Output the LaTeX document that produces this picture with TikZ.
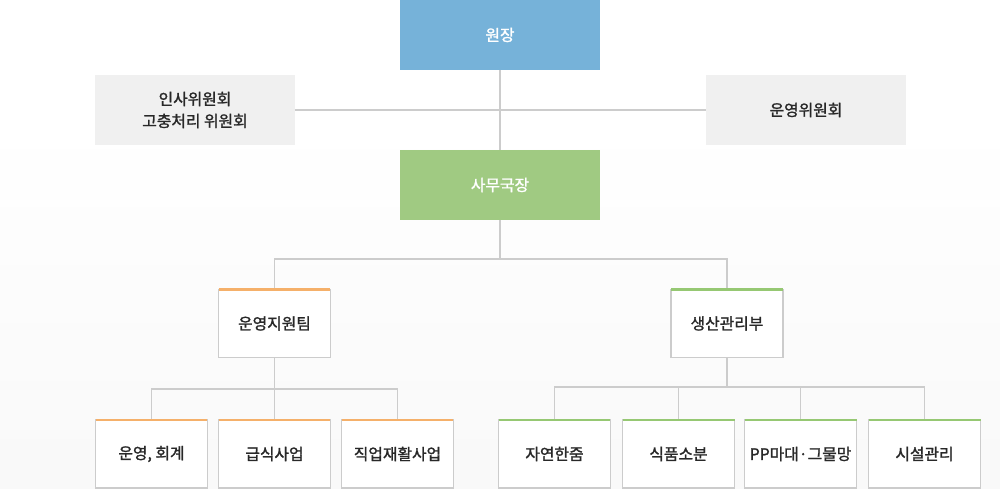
\documentclass[tikz,border=0pt]{standalone}
\usepackage{fontspec}
\setmainfont{Noto Sans CJK KR}[FakeBold=1.5]
\usepackage{xcolor}
\definecolor{headblue}{RGB}{118,178,217}
\definecolor{officegreen}{RGB}{160,202,130}
\definecolor{barorange}{RGB}{245,176,106}
\definecolor{bargreen}{RGB}{150,200,115}
\definecolor{boardgray}{RGB}{240,240,240}
\definecolor{linegray}{RGB}{204,204,204}
\definecolor{textdark}{RGB}{40,40,40}
\usepackage{tikz}
\usetikzlibrary{positioning, calc}

\begin{document}
\begin{tikzpicture}[x=0.02cm, y=-0.02cm, font=\fontsize{9}{12.5}\selectfont,
  topbox/.style={minimum width=4cm, minimum height=1.4cm, inner sep=0pt, outer sep=0pt, text=white},
  boardbox/.style={fill=boardgray, minimum width=4cm, minimum height=1.4cm, inner sep=0pt, outer sep=0pt, text=textdark, align=center},
  unitbox/.style={draw=linegray, line width=0.6pt, fill=white, minimum width=2.24cm, minimum height=1.36cm, inner sep=0pt, outer sep=0pt, text=textdark},
  link/.style={draw=linegray, line width=0.6pt}]

  % background
  \useasboundingbox (0,0) rectangle (1000,489);
  \shade[top color=white, bottom color=gray!5] (0,120) rectangle (1000,489);

  % Top: director, committees, office
  \node[topbox, fill=headblue] (director) at (500,35) {원장};
  \node[boardbox] (personnel) at (195,110) {인사위원회\\고충처리 위원회};
  \node[boardbox] (operating) at (806,110) {운영위원회};
  \node[topbox, fill=officegreen] (office) at (500,185) {사무국장};

  \draw[link] (personnel.east) -- (operating.west);
  \draw[link] (director.south) -- (office.north);

  % Middle: team and department
  \node[unitbox] (support) at (274.5,323.5) {운영지원팀};
  \node[unitbox] (production) at (727,323.5) {생산관리부};
  \coordinate (officesplit) at (500,259);
  \draw[link] (office.south) -- (officesplit);
  \draw[link] (support.north) |- (officesplit) -| (production.north);

  % Bottom: support units (orange)
  \node[unitbox] (account) at (151.5,454) {운영, 회계};
  \node[unitbox] (meal) at (274.5,454) {급식사업};
  \node[unitbox] (rehab) at (397.5,454) {직업재활사업};
  \coordinate (supportsplit) at (274.5,389);
  \draw[link] (support.south) -- (supportsplit);
  \foreach \n in {account,meal,rehab}{
    \draw[link] (\n.north) |- (supportsplit);
  }

  % Bottom: production units (green)
  \node[unitbox] (nature) at (554.5,454) {자연한줌};
  \node[unitbox] (food) at (678.5,454) {식품소분};
  \node[unitbox] (sack) at (800.5,454) {PP마대·그물망};
  \node[unitbox] (facility) at (924.5,454) {시설관리};
  \coordinate (productionsplit) at (727,387);
  \draw[link] (production.south) -- (productionsplit);
  \draw[link] (nature.north) |- (productionsplit) -| (facility.north);
  \draw[link] (food.north) -- (food.north |- productionsplit);
  \draw[link] (sack.north) -- (sack.north |- productionsplit);

  % coloured top bars
  \foreach \n in {support,account,meal,rehab}{
    \draw[barorange, line width=1.4pt] (\n.north west) -- (\n.north east);
  }
  \foreach \n in {production,nature,food,sack,facility}{
    \draw[bargreen, line width=1.4pt] (\n.north west) -- (\n.north east);
  }

\end{tikzpicture}
\end{document}
